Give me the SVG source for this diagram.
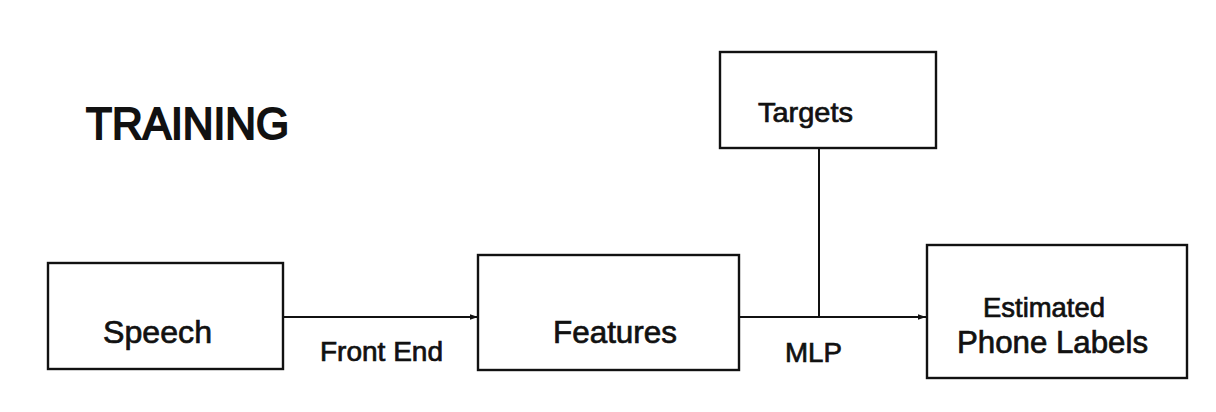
<svg xmlns="http://www.w3.org/2000/svg" width="1216" height="412" viewBox="0 0 1216 412">
<style>
.box{fill:#fff;stroke:#111;stroke-width:2.4}
.ln{fill:none;stroke:#111;stroke-width:2}
text{font-family:"Liberation Sans",Arial,sans-serif;fill:#111;stroke:#111;stroke-width:0.7}
</style>
<defs>
<marker id="ah" viewBox="0 0 10 10" refX="10" refY="5" markerWidth="9" markerHeight="8" markerUnits="userSpaceOnUse" orient="auto"><path d="M0,1.5 L10,5 L0,8.5 z" fill="#111"/></marker>
</defs>
<rect width="1216" height="412" fill="#fff"/>
<text x="86" y="139" font-size="44" style="stroke-width:2" textLength="203" lengthAdjust="spacingAndGlyphs">TRAINING</text>
<g id="connectors">
<line class="ln" x1="283" y1="317" x2="478" y2="317" marker-end="url(#ah)"/>
<line class="ln" x1="739" y1="317" x2="926" y2="317" marker-end="url(#ah)"/>
<line class="ln" x1="819" y1="148" x2="819" y2="317"/>
<text x="320" y="361" font-size="27" textLength="123" lengthAdjust="spacingAndGlyphs">Front End</text>
<text x="785" y="362" font-size="28" textLength="57" lengthAdjust="spacingAndGlyphs">MLP</text>
</g>
<g id="speech">
<rect class="box" x="48" y="263" width="235" height="106"/>
<text x="103" y="343" font-size="32" textLength="109" lengthAdjust="spacingAndGlyphs">Speech</text>
</g>
<g id="features">
<rect class="box" x="478" y="255" width="261" height="115"/>
<text x="553" y="343" font-size="31" textLength="124" lengthAdjust="spacingAndGlyphs">Features</text>
</g>
<g id="targets">
<rect class="box" x="720" y="52" width="216" height="96"/>
<text x="758" y="122" font-size="28" textLength="95" lengthAdjust="spacingAndGlyphs">Targets</text>
</g>
<g id="estimated">
<rect class="box" x="927" y="245" width="260" height="133"/>
<text x="983" y="317" font-size="27.5" textLength="122" lengthAdjust="spacingAndGlyphs">Estimated</text>
<text x="957" y="353" font-size="31" textLength="191" lengthAdjust="spacingAndGlyphs">Phone Labels</text>
</g>
</svg>
